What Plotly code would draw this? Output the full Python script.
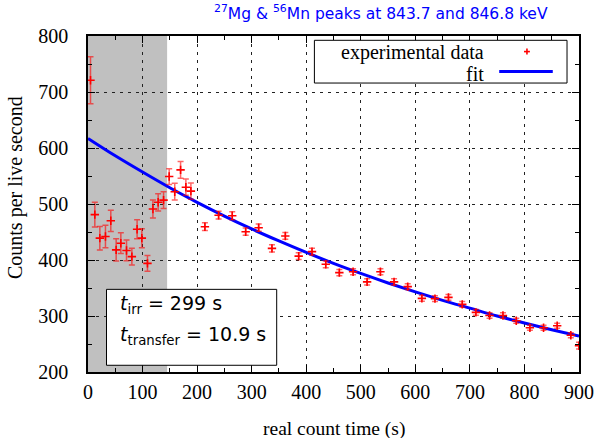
import plotly.graph_objects as go

# ---- data ----
t_data = [4.6, 12.5, 21.7, 32, 41.8, 51.6, 60.2, 70.6, 80.4, 90, 98.7, 109, 119, 128.6, 138.5,
          148.8, 159, 169.7, 179.4, 188.6,
          214.3, 239.4, 264.4, 289, 312.8, 337.2, 361.7, 386.2, 410.6, 435.8, 460.7, 485.9,
          511.6, 536, 561, 586, 612, 636, 660.7, 686, 711, 736, 760.6, 785, 810, 835, 860,
          885, 900]
counts = [721, 481, 439, 442, 470, 418, 430, 417, 406, 455, 439, 394, 491, 503, 507,
          549, 522, 561, 530, 523,
          459.5, 480, 479, 450.5, 457.7, 420.8, 442.9, 407, 414.9, 392.3, 377.4, 379,
          361, 379, 361, 352.4, 331.5, 331, 333.3, 320.8, 306.5, 301, 301, 291.5, 279,
          279, 282.5, 265.5, 247]
errors = [42, 22, 21, 20, 19, 20, 18.5, 18.5, 15, 17, 17, 14, 16, 15.5, 15,
          14, 15, 15, 14.5, 14.5,
          7, 7, 7, 6.5, 6.5, 6.5, 6, 6, 6, 6, 5.5, 5.5,
          5.5, 5.5, 5.5, 5, 5, 5, 5, 5, 5, 5, 5, 4.5, 4.5, 4.5, 4.5,
          4.5, 6]

t_fit = [0, 50, 100, 150, 200, 250, 300, 350, 400, 450, 500, 550, 600, 650, 700, 750, 800, 850, 900]
v_fit = [617, 586, 557, 529, 503, 478.5, 455.5, 434, 413.5, 394, 376, 359, 343, 328, 314, 300, 287.5, 275.5, 264]

shade_end = 145
x_ticks = [0, 100, 200, 300, 400, 500, 600, 700, 800, 900]
y_ticks = [200, 300, 400, 500, 600, 700, 800]

title_text = "<sup>27</sup>Mg &amp; <sup>56</sup>Mn peaks at 843.7 and 846.8 keV"
box_lines = ["<i>t</i><sub>irr</sub> = 299 s", "<i>t</i><sub>transfer</sub> = 10.9 s"]

SERIF = "Liberation Serif"
SANS = "DejaVu Sans"

fig = go.Figure()
fig.add_trace(go.Scatter(x=t_fit, y=v_fit, mode="lines", line=dict(color="#0000ff", width=3, shape="spline"),
                         name="fit"))
fig.add_trace(go.Scatter(
    x=t_data, y=counts, mode="markers", name="experimental data",
    marker=dict(symbol="cross-thin", size=6, color="red", line=dict(color="red", width=1.6)),
    error_y=dict(type="data", array=errors, visible=True, color="rgba(255,0,0,0.6)", thickness=1.5, width=3),
))

grid = dict(showgrid=True, gridcolor="#222222", gridwidth=1, griddash="3px,5px",
            showline=True, linecolor="black", linewidth=1.5, mirror="ticks",
            ticks="inside", ticklen=7, tickcolor="black", tickwidth=1, automargin=False,
            tickfont=dict(family=SERIF, size=20, color="black"), zeroline=False)

fig.update_xaxes(range=[0, 900], tickvals=x_ticks, ticklabelstandoff=1,
                 minor=dict(dtick=50, ticks="inside", ticklen=4, tickcolor="black", showgrid=False), **grid)
fig.update_yaxes(range=[200, 800], tickvals=y_ticks, ticklabelstandoff=14,
                 minor=dict(dtick=50, ticks="inside", ticklen=4, tickcolor="black", showgrid=False), **grid)

shapes = [
    dict(type="rect", xref="x", yref="y", x0=0, x1=shade_end, y0=200, y1=800,
         fillcolor="#c0c0c0", line=dict(width=0), layer="below"),
    # info box
    dict(type="rect", xref="paper", yref="paper", x0=0.0377, x1=0.3843, y0=0.02, y1=0.246,
         fillcolor="white", line=dict(color="black", width=1), layer="above"),
    # legend box
    dict(type="rect", xref="paper", yref="paper", x0=0.4611, x1=0.9756, y0=0.860, y1=0.9872,
         fillcolor="white", line=dict(color="black", width=1), layer="above"),
    # legend line sample
    dict(type="line", xref="paper", yref="paper", x0=0.8375, x1=0.9466, y0=0.894, y1=0.894,
         line=dict(color="#0000ff", width=3)),
    # legend marker sample
    dict(type="line", xref="paper", yref="paper", x0=0.888, x1=0.900, y0=0.9536, y1=0.9536,
         line=dict(color="red", width=1.6)),
    dict(type="line", xref="paper", yref="paper", x0=0.894, x1=0.894, y0=0.9446, y1=0.9626,
         line=dict(color="red", width=1.6)),
]

annotations = [
    dict(text=title_text, xref="paper", yref="paper", x=0.2524, y=1.0705, xanchor="left", yanchor="middle",
         showarrow=False, font=dict(family=SANS, size=15.5, color="#0000ff")),
    dict(text="experimental data", xref="paper", yref="paper", x=0.811, y=0.9515, xanchor="right",
         yanchor="middle", showarrow=False, font=dict(family=SERIF, size=20, color="black")),
    dict(text="fit", xref="paper", yref="paper", x=0.811, y=0.886, xanchor="right",
         yanchor="middle", showarrow=False, font=dict(family=SERIF, size=20, color="black")),
    dict(text=box_lines[0], xref="paper", yref="paper", x=0.0608, y=0.2015, xanchor="left",
         yanchor="middle", showarrow=False, font=dict(family=SANS, size=19, color="black")),
    dict(text=box_lines[1], xref="paper", yref="paper", x=0.0608, y=0.109, xanchor="left",
         yanchor="middle", showarrow=False, font=dict(family=SANS, size=19, color="black")),
    dict(text="Counts per live second", xref="paper", yref="paper", x=-0.1472, y=0.5497, xanchor="center",
         yanchor="middle", textangle=-90, showarrow=False, font=dict(family=SERIF, size=20, color="black")),
    dict(text="real count time (s)", xref="paper", yref="paper", x=0.5, y=-0.169, xanchor="center",
         yanchor="middle", showarrow=False, font=dict(family=SERIF, size=19.5, color="black")),
]

fig.update_layout(width=598, height=438, margin=dict(l=88, r=19, t=36, b=66),
                  plot_bgcolor="white", paper_bgcolor="white", showlegend=False,
                  shapes=shapes, annotations=annotations)

fig.write_html("out.html")
